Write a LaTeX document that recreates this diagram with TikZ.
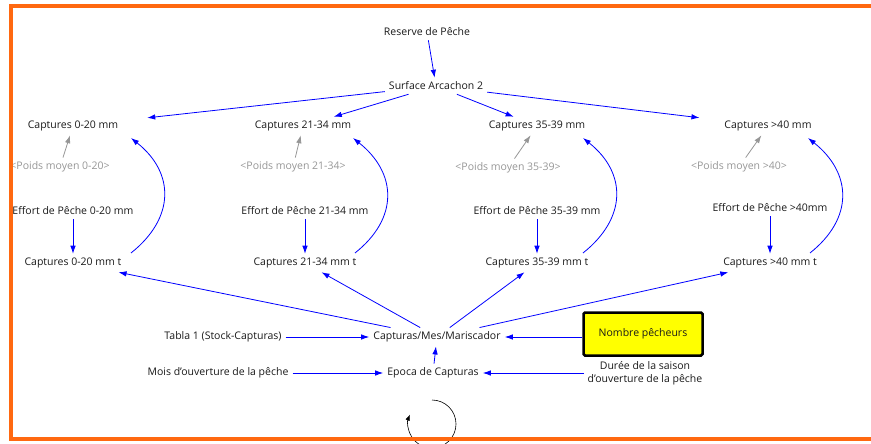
\documentclass[tikz,border=0pt]{standalone}
\usepackage{fontspec}
\setmainfont{Open Sans}
\usetikzlibrary{arrows.meta}
\definecolor{frameorange}{RGB}{255,104,16}
\definecolor{shadowgray}{RGB}{150,150,150}
\definecolor{linkblue}{RGB}{0,0,255}
\definecolor{boxyellow}{RGB}{255,255,0}

\begin{document}
\begin{tikzpicture}[x=1pt, y=-1pt,
    >={Latex[length=8pt,width=5.5pt]},
    var/.style={inner sep=4pt, font=\fontsize{10.5}{13}\selectfont, text=black!90},
    shadow/.style={var, text=shadowgray},
    link/.style={->, linkblue, line width=0.8pt},
    weak/.style={->, shadowgray, line width=0.8pt}]
	\useasboundingbox (0,0) rectangle (871,444);

	% Top of the model
	\node[var] (reserve) at (427,32) {Reserve de Pêche};
	\node[var] (surface) at (436,86) {Surface Arcachon 2};

	% Captures per size class
	\node[var] (cap1) at (73,126) {Captures 0-20 mm};
	\node[var] (cap2) at (303,126) {Captures 21-34 mm};
	\node[var] (cap3) at (537,126) {Captures 35-39 mm};
	\node[var] (cap4) at (768,126) {Captures >40 mm};

	% Shadow variables (grey)
	\node[shadow] (poids1) at (60,167) {<Poids moyen 0-20>};
	\node[shadow] (poids2) at (293,167) {<Poids moyen 21-34>};
	\node[shadow] (poids3) at (508,168) {<Poids moyen 35-39>};
	\node[shadow] (poids4) at (739,167) {<Poids moyen >40>};

	% Fishing effort
	\node[var] (eff1) at (73,211) {Effort de Pêche 0-20 mm};
	\node[var] (eff2) at (305,211) {Effort de Pêche 21-34 mm};
	\node[var] (eff3) at (537,211) {Effort de Pêche 35-39 mm};
	\node[var] (eff4) at (770,208) {Effort de Pêche >40mm};

	% Captures at time t
	\node[var] (capt1) at (73,263) {Captures 0-20 mm t};
	\node[var] (capt2) at (305,263) {Captures 21-34 mm t};
	\node[var] (capt3) at (537,263) {Captures 35-39 mm t};
	\node[var] (capt4) at (770,263) {Captures >40 mm t};

	% Bottom row
	\node[var] (tabla) at (223,337) {Tabla 1 (Stock-Capturas)};
	\node[var] (mes) at (437,337) {Capturas/Mes/Mariscador};
	\node[var, draw=black, line width=2.5pt, fill=boxyellow, rounded corners=1.5pt,
	      minimum width=119pt, minimum height=43pt] (pecheurs) at (643,334) {Nombre pêcheurs};
	\node[var] (mois) at (218,373) {Mois d'ouverture de la pêche};
	\node[var] (epoca) at (433,373) {Epoca de Capturas};
	\node[var, align=center] (duree) at (645,373) {Durée de la saison\\d'ouverture de la pêche};

	% Draw links from the top
	\draw[link] (reserve) -- (surface);
	\draw[link, shorten >=25pt] (surface) -- (cap1);
	\draw[link] (surface) -- (cap2);
	\draw[link] (surface) -- (cap3);
	\draw[link, shorten >=21pt] (surface) -- (cap4);

	% Draw links in each column
	\foreach \i in {1,...,4} {
		\draw[weak] (poids\i) -- (cap\i);
		\draw[link] (eff\i) -- (capt\i);
		\draw[link] (mes) -- (capt\i);
	}

	% Curved links back up
	\foreach \i/\dx in {1/58, 2/50, 3/46, 4/40}
	\draw[link] ([xshift=\dx pt, yshift=10pt]capt\i.center) .. controls +(44,-35) and +(44,35) .. ([xshift=\dx pt, yshift=-12pt]cap\i.center);

	% Draw links in the bottom row
	\draw[link] (tabla) -- (mes);
	\draw[link] (pecheurs.west |- mes) -- (mes);
	\draw[link] (mois) -- (epoca);
	\draw[link] (duree) -- (epoca);
	\draw[link] (epoca) -- (mes);

	% Loop marker
	\coordinate (loop) at (432,424);
	\draw[->, line width=0.6pt, >={Latex[length=6pt,width=4.5pt]}] (loop) ++(-90:24) arc[start angle=-90, end angle=203, radius=24];

	% Frame
	\draw[frameorange, line width=3.5pt] (11,6) rectangle (890,439);
\end{tikzpicture}
\end{document}
